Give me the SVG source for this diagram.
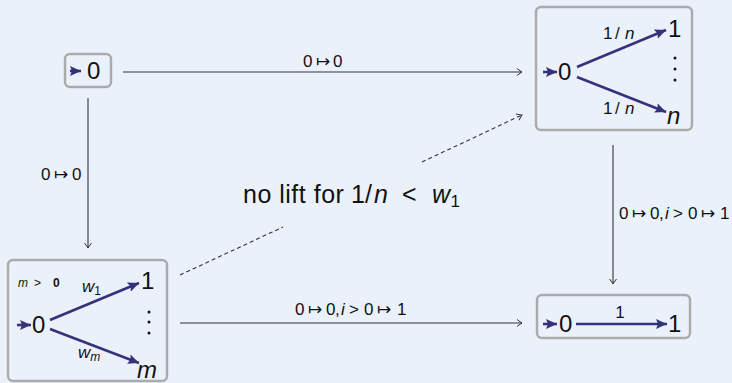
<svg xmlns="http://www.w3.org/2000/svg" width="732" height="383" viewBox="0 0 732 383">
<style>
.bg{fill:#EBF1FB}
.box{fill:#EBF1FB;stroke:#ABABAB;stroke-width:2.5}
.t{font-family:"Liberation Sans","DejaVu Sans",sans-serif;fill:#111}
.big{font-size:24px}
.main{font-size:25px;letter-spacing:0.5px}
.lab{font-size:17px}
.sm{font-size:12px}
.it{font-style:italic}
.conn{stroke:#333;stroke-width:1.1;fill:none}
.dash{stroke-dasharray:4 3}
.inner{stroke:#33337A;stroke-width:2.6;fill:none}
.dot{fill:#111}
</style>
<defs>
<marker id="open" viewBox="-6 -4 8 8" markerWidth="8" markerHeight="8" refX="0" refY="0" orient="auto" markerUnits="userSpaceOnUse">
<path d="M-5,-3.5 Q-1.5,-0.8 0,0 Q-1.5,0.8 -5,3.5" fill="none" stroke="#333" stroke-width="1"/>
</marker>
<marker id="tri" viewBox="-11 -5 12 10" markerWidth="12" markerHeight="10" refX="0" refY="0" orient="auto" markerUnits="userSpaceOnUse">
<path d="M-11,-5 L0,0 L-11,5 L-9,0 Z" fill="#33337A"/>
</marker>
</defs>
<rect class="bg" x="0" y="0" width="732" height="383"/>

<g id="connectors">
<line class="conn" x1="123" y1="72" x2="522" y2="72" marker-end="url(#open)"/>
<text class="t lab" x="303" y="67">0<tspan x="316">↦</tspan><tspan x="333">0</tspan></text>
<line class="conn" x1="88" y1="98" x2="88" y2="248" marker-end="url(#open)"/>
<text class="t lab" x="41" y="180">0<tspan x="54">↦</tspan><tspan x="72">0</tspan></text>
<line class="conn" x1="613" y1="145" x2="613" y2="284" marker-end="url(#open)"/>
<text class="t lab" x="619" y="219">0<tspan x="632">↦</tspan><tspan x="650">0</tspan><tspan x="659">,</tspan><tspan x="665" class="it">i</tspan><tspan x="673">&gt;</tspan><tspan x="688">0</tspan><tspan x="701">↦</tspan><tspan x="720">1</tspan></text>
<line class="conn" x1="180" y1="323" x2="522" y2="323" marker-end="url(#open)"/>
<text class="t lab" x="295" y="315">0<tspan x="308">↦</tspan><tspan x="326">0</tspan><tspan x="335">,</tspan><tspan x="341" class="it">i</tspan><tspan x="349">&gt;</tspan><tspan x="364">0</tspan><tspan x="377">↦</tspan><tspan x="397">1</tspan></text>
<path class="conn dash" d="M180,275 L283,227"/>
<path class="conn dash" d="M422,162 L522,115" marker-end="url(#open)"/>
<text class="t main" x="243" y="203">no lift for<tspan x="351">1</tspan><tspan x="365">/</tspan><tspan x="374" class="it">n</tspan><tspan x="402">&lt;</tspan><tspan x="432" class="it">w</tspan><tspan class="lab" dy="4">1</tspan></text>
</g>

<g id="n00">
<rect class="box" x="65" y="54" width="46" height="33" rx="5"/>
<line class="inner" x1="70" y1="71" x2="81" y2="71" marker-end="url(#tri)"/>
<text class="t big" x="87" y="79">0</text>
</g>

<g id="n01">
<rect class="box" x="536" y="7" width="156" height="123" rx="5"/>
<line class="inner" x1="543" y1="72" x2="557" y2="72" marker-end="url(#tri)"/>
<text class="t big" x="558" y="80">0</text>
<line class="inner" x1="577" y1="67" x2="666" y2="30" marker-end="url(#tri)"/>
<line class="inner" x1="577" y1="77" x2="666" y2="112" marker-end="url(#tri)"/>
<text class="t big" x="668" y="37">1</text>
<text class="t big it" x="667" y="124">n</text>
<text class="t lab" x="603" y="39">1<tspan x="615">/</tspan><tspan x="625" class="it">n</tspan></text>
<text class="t lab" x="603" y="114">1<tspan x="615">/</tspan><tspan x="625" class="it">n</tspan></text>
<circle class="dot" cx="675" cy="58" r="1.5"/>
<circle class="dot" cx="675" cy="69" r="1.5"/>
<circle class="dot" cx="675" cy="80" r="1.5"/>
</g>

<g id="n10">
<rect class="box" x="8" y="260" width="159" height="121" rx="5"/>
<text class="t sm" x="18" y="287"><tspan class="it">m</tspan><tspan x="34">&gt;</tspan><tspan x="53" font-weight="bold">0</tspan></text>
<line class="inner" x1="17" y1="325" x2="31" y2="325" marker-end="url(#tri)"/>
<text class="t big" x="32" y="333">0</text>
<line class="inner" x1="50" y1="320" x2="139" y2="283" marker-end="url(#tri)"/>
<line class="inner" x1="50" y1="329" x2="139" y2="363" marker-end="url(#tri)"/>
<text class="t big" x="141" y="289">1</text>
<text class="t big it" x="137" y="378">m</text>
<text class="t lab" x="82" y="292"><tspan class="it">w</tspan><tspan class="sm" dy="3">1</tspan></text>
<text class="t lab" x="78" y="358"><tspan class="it">w</tspan><tspan class="sm it" dy="3">m</tspan></text>
<circle class="dot" cx="149" cy="312" r="1.5"/>
<circle class="dot" cx="149" cy="322" r="1.5"/>
<circle class="dot" cx="149" cy="333" r="1.5"/>
</g>

<g id="n11">
<rect class="box" x="537" y="295" width="153" height="43" rx="5"/>
<line class="inner" x1="543" y1="324" x2="557" y2="324" marker-end="url(#tri)"/>
<text class="t big" x="559" y="332">0</text>
<line class="inner" x1="576" y1="324" x2="667" y2="324" marker-end="url(#tri)"/>
<text class="t lab" x="620" y="318" text-anchor="middle">1</text>
<text class="t big" x="668" y="332">1</text>
</g>
</svg>
